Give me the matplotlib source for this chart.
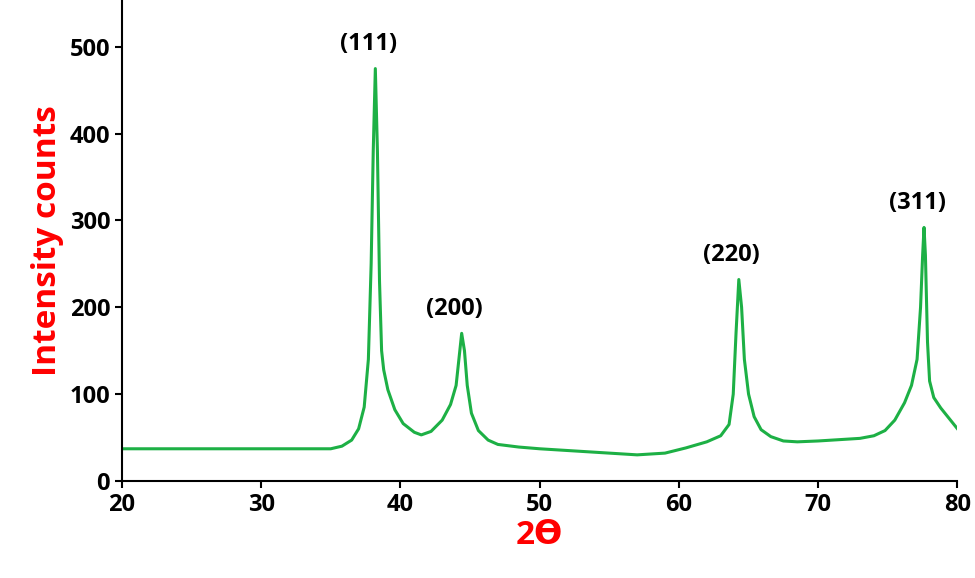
import matplotlib.pyplot as plt
import numpy as np

two_theta = [20, 25, 30, 33, 35, 35.8, 36.5, 37.0, 37.4, 37.7, 37.9, 38.05, 38.2, 38.35, 38.5, 38.65,
             38.8, 39.1, 39.6, 40.2, 41.0, 41.5, 42.2, 43.0, 43.6, 44.0, 44.2, 44.4, 44.6, 44.8, 45.1,
             45.6, 46.3, 47, 48.5, 50, 53, 57, 59, 60.5, 62, 63.0, 63.6, 63.9, 64.1, 64.3, 64.5, 64.7,
             65.0, 65.4, 65.9, 66.6, 67.5, 68.5, 70, 73, 74, 74.8, 75.5, 76.2, 76.7, 77.1, 77.35, 77.5,
             77.6, 77.7, 77.85, 78.0, 78.3, 78.8, 79.4, 80]
intensity = [37, 37, 37, 37, 37, 40, 47, 60, 85, 140, 250, 380, 475, 380, 230, 150,
             128, 105, 82, 66, 56, 53, 57, 70, 88, 110, 140, 170, 150, 110, 78,
             58, 47, 42, 39, 37, 34, 30, 32, 38, 45, 52, 65, 100, 170, 232, 200, 140,
             100, 74, 59, 51, 46, 45, 46, 49, 52, 58, 70, 90, 110, 140, 200, 260,
             292, 260, 160, 115, 96, 84, 72, 60]
peaks = ["(111)", "(200)", "(220)", "(311)"]
peak_x = [38.2, 44.4, 64.3, 77.6]
peak_y = [475, 170, 232, 292]

plt.rcParams['font.family'] = ['Open Sans', 'DejaVu Sans']
fig, ax = plt.subplots(figsize=(9.75, 5.78), dpi=100)
fig.subplots_adjust(left=0.125, right=0.982, top=1.0, bottom=0.168)
ax.plot(two_theta, intensity, color="#1db045", lw=2.2)
for lab, x, y in zip(peaks, peak_x, peak_y):
    ax.text(x - 0.5, y + 14, lab, ha="center", va="bottom", fontsize=17, fontweight="bold")
ax.set_xlim(20, 80)
ax.set_ylim(0, 554)
ax.set_yticks([0, 100, 200, 300, 400, 500])
ax.spines["top"].set_visible(False)
ax.spines["right"].set_visible(False)
for s in ("left", "bottom"):
    ax.spines[s].set_linewidth(1.5)
ax.tick_params(labelsize=17, width=1.5, length=5)
for t in ax.get_xticklabels() + ax.get_yticklabels():
    t.set_fontweight("bold")
ax.set_xlabel("2Ɵ", color="red", fontsize=24, fontweight="bold", labelpad=2)
ax.set_ylabel("Intensity counts", color="red", fontsize=24, fontweight="bold")
fig.savefig("out.png")
